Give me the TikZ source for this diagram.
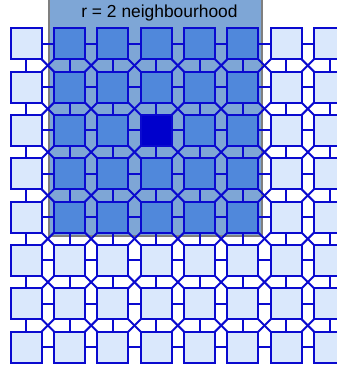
\documentclass[tikz,border=0pt]{standalone}
\usepackage{fontspec}
\setsansfont{Liberation Sans}
\pgfdeclarelayer{boxlayer}
\pgfdeclarelayer{linklayer}
\pgfsetlayers{boxlayer,linklayer,main}
\definecolor{cellfill}{HTML}{DAE8FC}
\definecolor{nbfill}{HTML}{5088DB}
\definecolor{centrefill}{HTML}{0000CC}
\definecolor{cellline}{HTML}{0A0ACF}
\definecolor{boxfill}{HTML}{7EA6D6}
\definecolor{boxline}{HTML}{7F7F7F}
\tikzset{
  cell/.style={draw=cellline, line width=2pt, fill=cellfill, minimum size=31pt, inner sep=0pt, outer sep=0pt},
  nbcell/.style={cell, fill=nbfill},
  centrecell/.style={cell, fill=centrefill},
  link/.style={draw=cellline, line width=2pt},
  nbbox/.style={draw=boxline, line width=2pt, fill=boxfill, inner sep=0pt, outer sep=0pt}
}
\begin{document}
\begin{tikzpicture}[x=1pt,y=-1pt]
\useasboundingbox (0,0) rectangle (337,370);
% cells
\foreach \i in {0,...,7} {
  \foreach \j in {0,...,7} {
    \pgfmathsetmacro{\cx}{26.2+43.33*\i}
    \pgfmathsetmacro{\cy}{43.8+43.33*\j}
    \def\st{cell}
    \ifnum\i>0 \ifnum\i<6 \ifnum\j<5 \def\st{nbcell}\fi\fi\fi
    \ifnum\i=3 \ifnum\j=2 \def\st{centrecell}\fi\fi
    \node[\st] (c-\i-\j) at (\cx,\cy) {};
  }
}
% links
\begin{pgfonlayer}{linklayer}
\foreach \i in {0,...,7} {
  \foreach \j in {0,...,7} {
    \pgfmathtruncatemacro{\ni}{\i+1}
    \pgfmathtruncatemacro{\nj}{\j+1}
    \ifnum\i<7 \draw[link] (c-\i-\j.center) -- (c-\ni-\j.center);\fi
    \ifnum\j<7 \draw[link] (c-\i-\j.center) -- (c-\i-\nj.center);\fi
    \ifnum\i<7 \ifnum\j<7
      \draw[link] (c-\i-\j.center) -- (c-\ni-\nj.center);
      \draw[link] (c-\ni-\j.center) -- (c-\i-\nj.center);
    \fi\fi
  }
}
\end{pgfonlayer}
% neighbourhood box
\begin{pgfonlayer}{boxlayer}
\node[nbbox, minimum width=213.5pt, minimum height=239pt, anchor=north west] (nb) at (48.5,-3) {};
\end{pgfonlayer}
\node[font=\sffamily\fontsize{17.4}{20}\selectfont, anchor=center, inner sep=0pt] (lbl) at (159.5,13) {r = 2 neighbourhood};
\end{tikzpicture}
\end{document}
